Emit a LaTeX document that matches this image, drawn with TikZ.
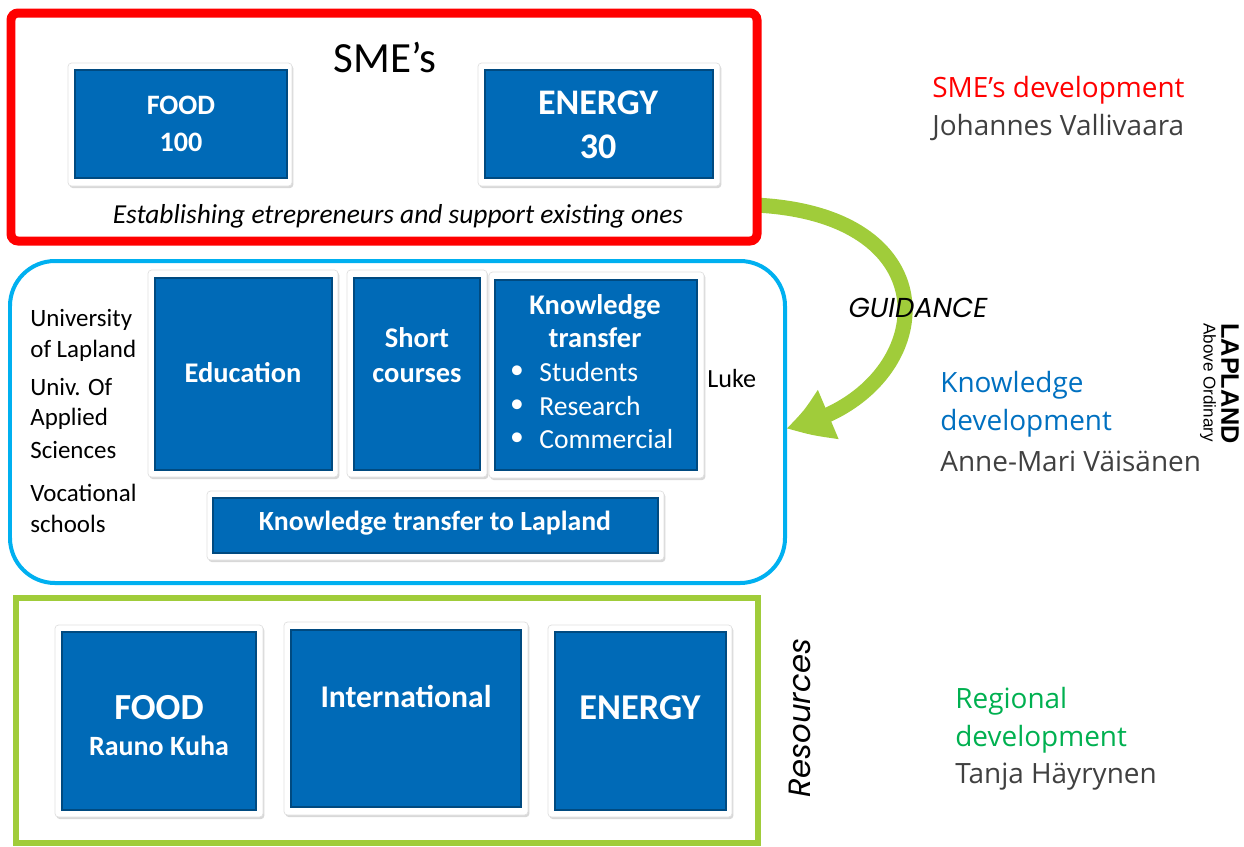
\documentclass[tikz,border=0pt]{standalone}
\usepackage{fontspec}
\setmainfont{Carlito}
\newfontfamily\seg{Open Sans}
\newfontfamily\geo{Poppins}
\newfontfamily\arial{Liberation Sans}
\usetikzlibrary{fit,shadows,arrows.meta,bending}
\definecolor{boxblue}{RGB}{0,106,183}
\definecolor{smered}{RGB}{255,0,0}
\definecolor{kcyan}{RGB}{0,176,240}
\definecolor{lgreen}{RGB}{160,204,58}
\definecolor{ktext}{RGB}{0,112,192}
\definecolor{rtext}{RGB}{0,176,80}
\definecolor{gtext}{RGB}{64,64,64}
\newcommand{\fs}[1]{\fontsize{#1}{1.2\dimexpr #1pt\relax}\selectfont}
\tikzset{
  wframe/.style={fill=white, draw=black!12, line width=0.4pt, rounded corners=2pt, inner sep=0pt,
    drop shadow={opacity=0.3, shadow xshift=0.8pt, shadow yshift=-1.2pt}},
  bbox/.style={fill=boxblue, draw=boxblue!70!black, line width=0.8pt, inner sep=0pt},
  wtxt/.style={text=white, font=\bfseries, align=center, inner sep=0pt},
  btxt/.style={text=black, inner sep=0pt},
  rlabel/.style={anchor=west, inner sep=0pt, font=\seg\fs{15.9}},
}
\begin{document}
\begin{tikzpicture}[x=0.02cm,y=-0.02cm]
\useasboundingbox (0,0) rectangle (1244,846);
% arrow (under red box)
\coordinate (gs) at (755,205);
\coordinate (ge) at (786,428);
\draw[lgreen, line width=0.3cm, -{Triangle[length=0.92cm,width=0.98cm,bend]}]
  (gs) .. controls (965,215) and (935,400) .. (ge);
% red box
\node[draw=smered, line width=0.18cm, rounded corners=4pt, fill=white, inner sep=0pt,
  drop shadow={opacity=0.25, shadow xshift=1pt, shadow yshift=-1.5pt},
  fit={(11,13)(757,241)}] (sme) {};
\node[btxt, font=\fs{24.5}] (smet) at (385,57) {SME’s};
\node[wframe, fit={(68,63)(292,186)}] (f1f) {};
\node[bbox, fit={(75,70)(287,178)}] (f1) {};
\node[wtxt, font=\bfseries\fontsize{16}{21}\selectfont] (f1t) at (181,124) {FOOD\\100};
\node[wframe, fit={(478,63)(720,186)}] (e1f) {};
\node[bbox, fit={(485,70)(713,178)}] (e1) {};
\node[wtxt, font=\bfseries\fontsize{20.5}{25}\selectfont] (e1t) at (598,125) {ENERGY\\30};
\node[btxt, font=\itshape\fs{15.6}] (est) at (398,216) {Establishing etrepreneurs and support existing ones};
% right labels
\node[rlabel, text=smered] (l1) at (932,90) {SME’s development};
\node[rlabel, text=gtext] (l1b) at (932,128) {Johannes Vallivaara};
\node[rlabel, text=ktext] (l2) at (940,385) {Knowledge};
\node[rlabel, text=ktext] (l2b) at (940,423) {development};
\node[rlabel, text=gtext] (l2c) at (940,461) {Anne-Mari Väisänen};
\node[rlabel, text=rtext] (l3) at (955,701) {Regional};
\node[rlabel, text=rtext] (l3b) at (955,739) {development};
\node[rlabel, text=gtext] (l3c) at (955,777) {Tanja Häyrynen};
\node[rotate=-90, anchor=north west, align=left, inner sep=0pt, font=\arial] (lap) at (1239,323)
  {{\bfseries\fontsize{14.4}{15}\selectfont LAPLAND}\\[-2pt]{\fontsize{9.7}{10}\selectfont Above Ordinary}};
% knowledge box
\node[draw=kcyan, line width=0.08cm, rounded corners=0.9cm, inner sep=0pt, fill=white,
  fit={(10,261)(785,583)}] (know) {};
\foreach \t/\yy [count=\i] in {University/320, of Lapland/351, Univ. Of/387, Applied/419, Sciences/450, Vocational/493, schools/524}
  \node[btxt, anchor=west, font=\fs{14.2}] (lt\i) at (30,\yy) {\t};
\node[wframe, fit={(148,270)(338,477)}] (edf) {};
\node[bbox, fit={(155,278)(332,470)}] (ed) {};
\node[wtxt, font=\bfseries\fs{16.2}] (edt) at (243,373) {Education};
\node[wframe, fit={(347,270)(487,477)}] (scf) {};
\node[bbox, fit={(354,278)(480,470)}] (sc) {};
\node[wtxt, font=\bfseries\fontsize{16.2}{20}\selectfont] (sct) at (417,355) {Short\\courses};
\node[wframe, fit={(489,272)(704,478)}] (ktf) {};
\node[bbox, fit={(495,280)(697,470)}] (kt) {};
\node[wtxt, font=\bfseries\fontsize{16.2}{19}\selectfont] (ktt) at (595,321) {Knowledge\\transfer};
\foreach \t/\yy [count=\i] in {Students/372, Research/406, Commercial/439} {
  \node[text=white, inner sep=0pt, font=\fs{15.7}] (b\i) at (517,\yy) {•};
  \node[text=white, anchor=west, inner sep=0pt, font=\fs{15.7}] (bt\i) at (539,\yy) {\t};
}
\node[btxt, anchor=west, font=\fs{14.9}] (luke) at (707,378) {Luke};
\node[wframe, fit={(207,491)(664,560)}] (ktlf) {};
\node[bbox, fit={(213,498)(658,553)}] (ktl) {};
\node[wtxt, font=\bfseries\fs{15.8}] (ktlt) at (435,523) {Knowledge transfer to Lapland};
\node[btxt, font=\geo\itshape\fs{15.6}] (guid) at (918,308) {GUIDANCE};
% resources box
\node[draw=lgreen, line width=0.12cm, inner sep=0pt, fill=white, fit={(16,598)(758,843)}] (res) {};
\node[wframe, fit={(55,625)(263,817)}] (f2f) {};
\node[bbox, fit={(62,632)(256,810)}] (f2) {};
\node[wtxt, font=\bfseries\fs{20.9}] (f2t) at (159,708) {FOOD};
\node[wtxt, font=\bfseries\fs{15.9}] (f2r) at (159,746) {Rauno Kuha};
\node[wframe, fit={(284,622)(528,815)}] (inf) {};
\node[bbox, fit={(291,630)(521,807)}] (in) {};
\node[wtxt, font=\bfseries\fs{18}] (int) at (406,696) {International};
\node[wframe, fit={(548,625)(732,817)}] (e2f) {};
\node[bbox, fit={(555,632)(726,810)}] (e2) {};
\node[wtxt, font=\bfseries\fs{20.7}] (e2t) at (640,708) {ENERGY};
\node[btxt, rotate=90, font=\geo\itshape\fs{17.5}] (resl) at (800,718) {Resources};
\end{tikzpicture}
\end{document}
